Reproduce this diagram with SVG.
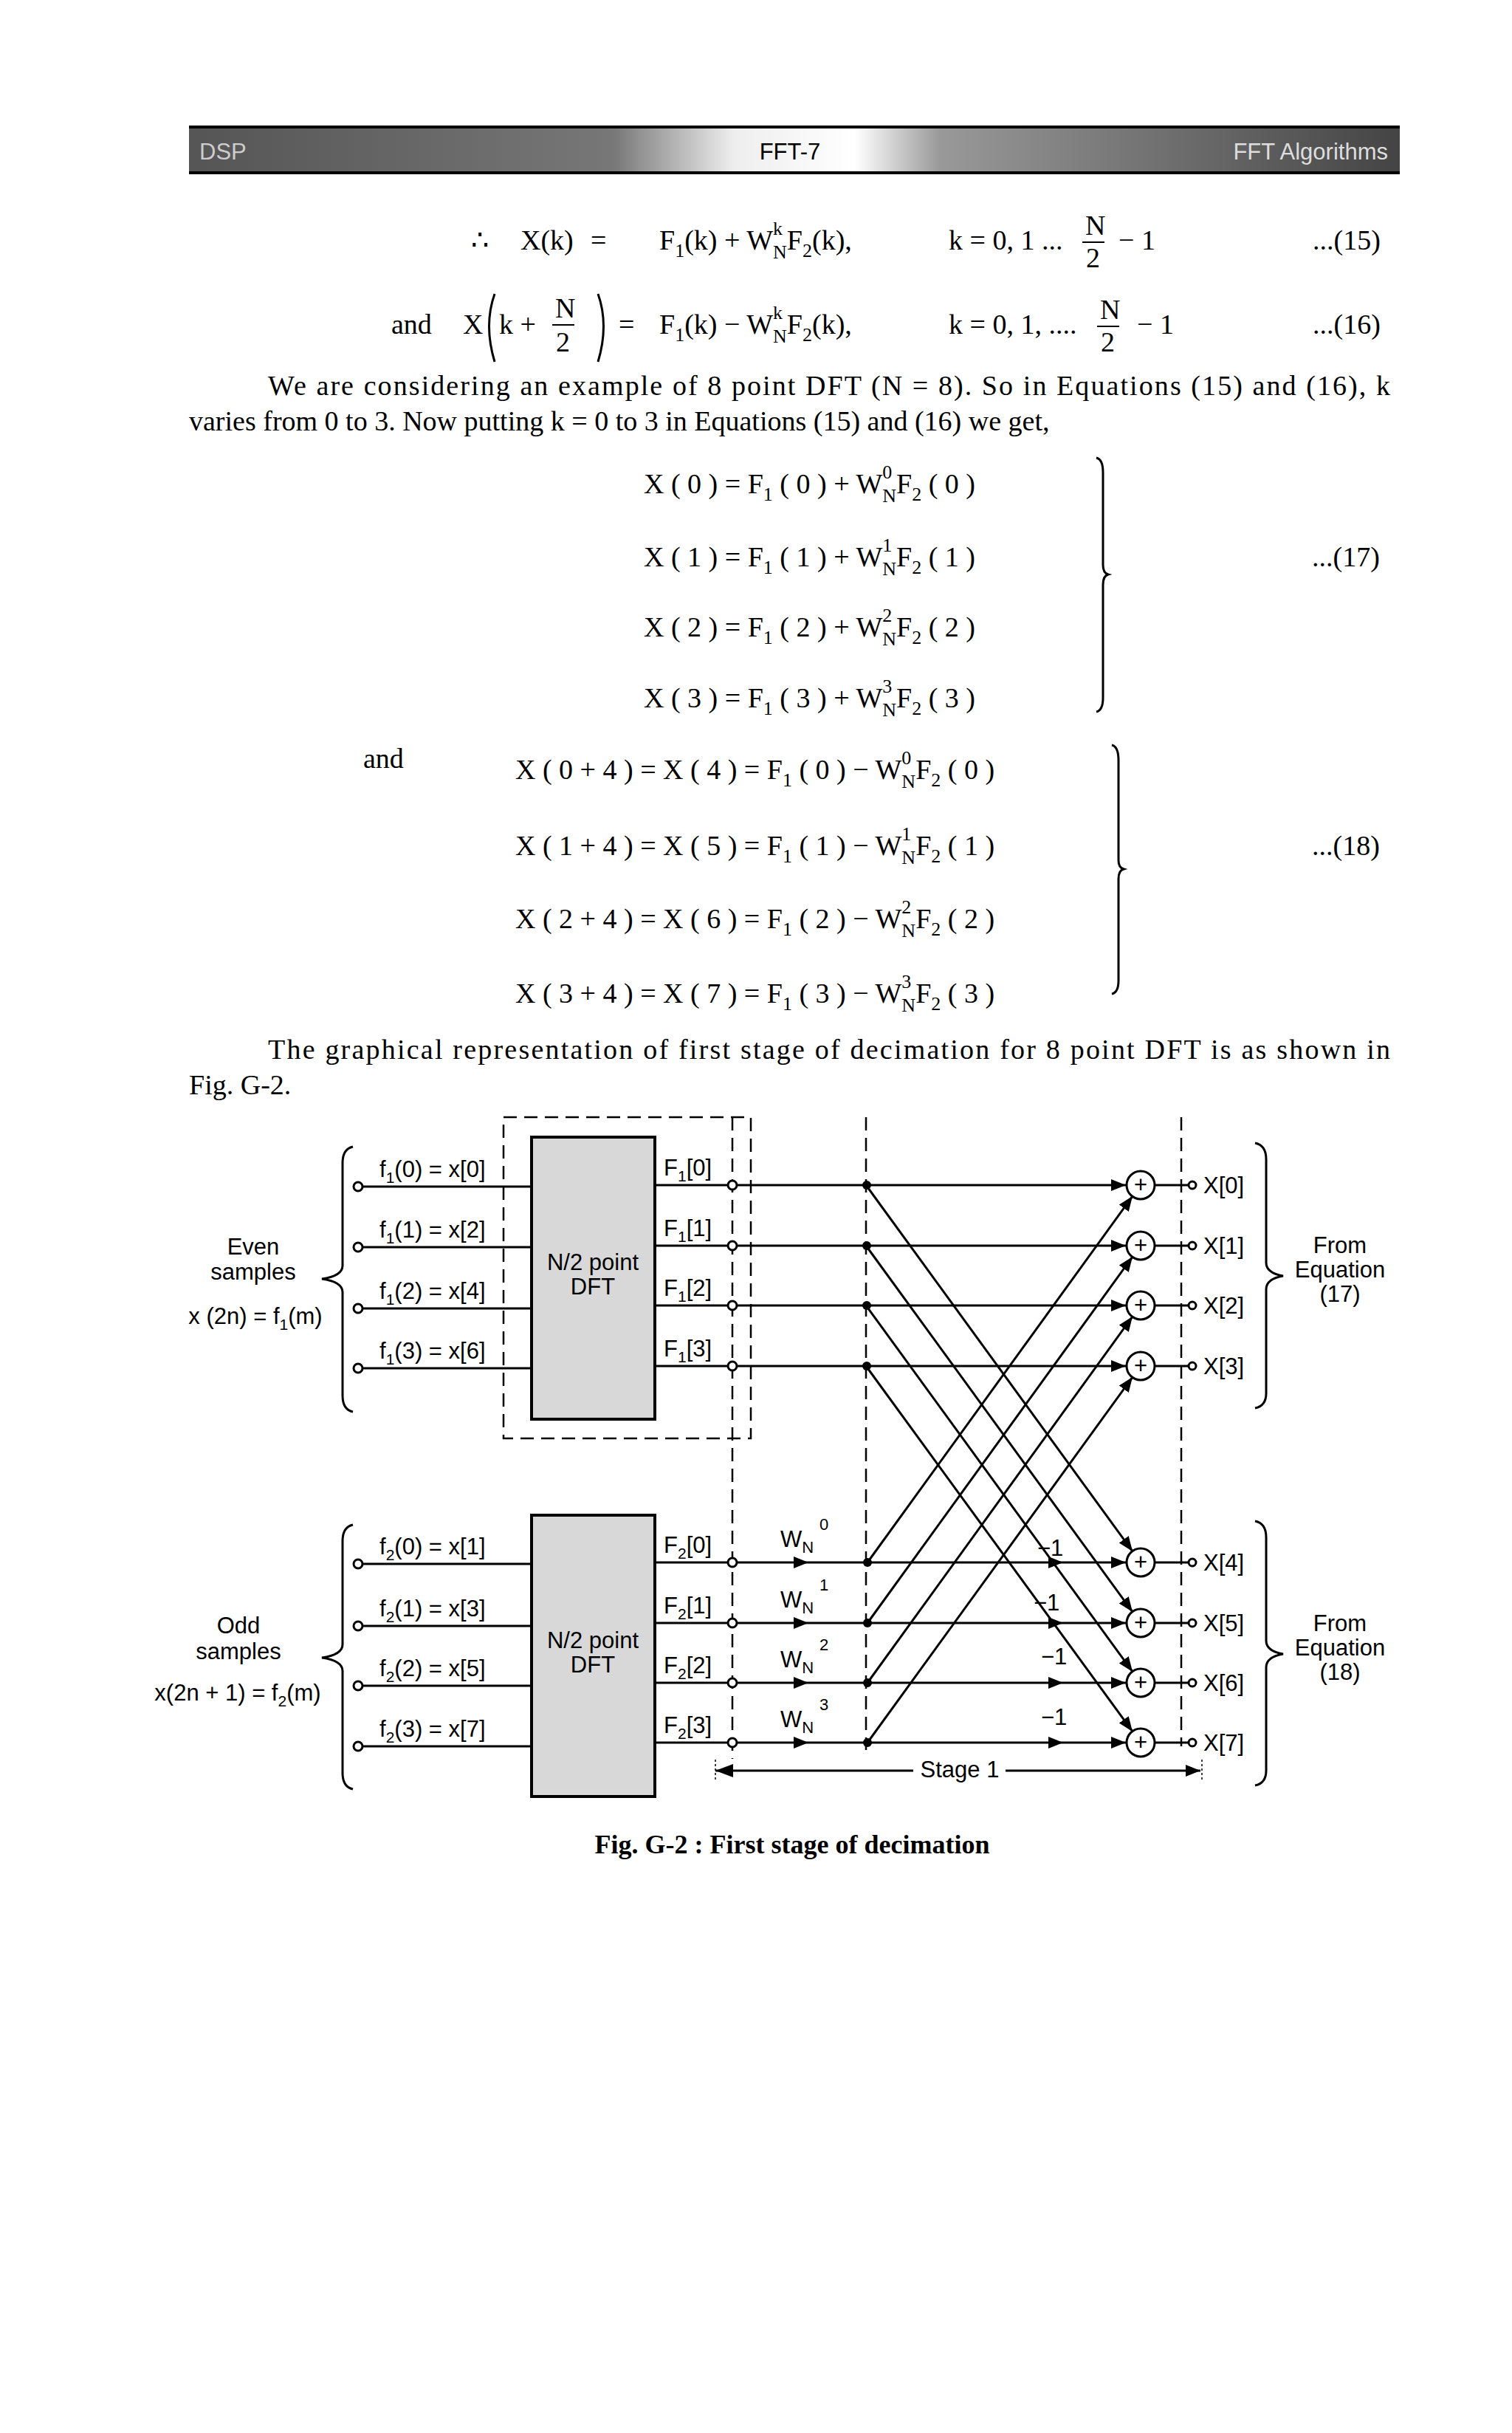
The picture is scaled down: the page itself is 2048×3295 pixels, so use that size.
<svg xmlns="http://www.w3.org/2000/svg" width="2048" height="3295" viewBox="0 0 2048 3295">
<defs>
<linearGradient id="band" x1="0" x2="1" y1="0" y2="0">
<stop offset="0" stop-color="#555"/><stop offset="0.35" stop-color="#777"/><stop offset="0.45" stop-color="#eee"/><stop offset="0.55" stop-color="#fff"/><stop offset="0.62" stop-color="#999"/><stop offset="1" stop-color="#444"/>
</linearGradient>
<marker id="ah" viewBox="0 0 20 20" refX="20" refY="10" markerWidth="20" markerHeight="20" markerUnits="userSpaceOnUse" orient="auto"><path d="M0,2 L20,10 L0,18 Z" fill="#000"/></marker>
<marker id="ahs" viewBox="0 0 24 24" refX="0" refY="12" markerWidth="24" markerHeight="24" markerUnits="userSpaceOnUse" orient="auto"><path d="M24,3 L0,12 L24,21 Z" fill="#000"/></marker>
</defs>
<style>
.t{font-family:"Liberation Serif",serif;font-size:38px;fill:#000}
.d{font-family:"Liberation Sans",Arial,sans-serif;font-size:31px;fill:#000}
.ln{stroke:#000;stroke-width:3;fill:none}
.dash{stroke:#000;stroke-width:2.5;stroke-dasharray:18 10;fill:none}
.oc{fill:#fff;stroke:#000;stroke-width:3}
.dot{fill:#000}
.add{fill:#fff;stroke:#000;stroke-width:3}
.box{fill:#d8d8d8;stroke:#000;stroke-width:4}
.s{font-size:26px}
</style>
<rect width="2048" height="3295" fill="#fff"/>
<g id="header">
<rect x="256" y="172" width="1640" height="62" fill="url(#band)"/>
<line x1="256" y1="172" x2="1896" y2="172" stroke="#000" stroke-width="4"/>
<line x1="256" y1="234" x2="1896" y2="234" stroke="#000" stroke-width="4"/>
<text x="1070" y="216" class="d" text-anchor="middle" font-size="32">FFT-7</text>
<text x="1880" y="216" class="d" text-anchor="end" style="fill:#ddd">FFT Algorithms</text>
<text x="270" y="216" class="d" style="fill:#ccc">DSP</text>
</g>
<g id="equations">
<text class="t" y="338"><tspan x="638">∴</tspan><tspan x="705">X(k)</tspan><tspan x="800">=</tspan><tspan x="893">F<tspan class="s" dy="10">1</tspan><tspan dy="-10">(k) + W</tspan><tspan class="s" dy="-20">k</tspan><tspan class="s" dx="-13" dy="32">N</tspan><tspan dy="-12">F</tspan><tspan class="s" dy="10">2</tspan><tspan dy="-10">(k),</tspan></tspan><tspan x="1285">k = 0, 1 ...</tspan><tspan x="1515">− 1</tspan><tspan x="1778">...(15)</tspan></text>
<text class="t" x="1470" y="318" font-size="32">N</text><line x1="1466" y1="328" x2="1496" y2="328" stroke="#000" stroke-width="2"/><text class="t" x="1471" y="362" font-size="32">2</text>

<text class="t" y="452"><tspan x="530">and</tspan><tspan x="627">X</tspan><tspan x="676">k +</tspan><tspan x="838">=</tspan><tspan x="893">F<tspan class="s" dy="10">1</tspan><tspan dy="-10">(k) − W</tspan><tspan class="s" dy="-20">k</tspan><tspan class="s" dx="-13" dy="32">N</tspan><tspan dy="-12">F</tspan><tspan class="s" dy="10">2</tspan><tspan dy="-10">(k),</tspan></tspan><tspan x="1285">k = 0, 1, ....</tspan><tspan x="1540">− 1</tspan><tspan x="1778">...(16)</tspan></text>
<text class="t" x="752" y="430" font-size="32">N</text><line x1="748" y1="440" x2="778" y2="440" stroke="#000" stroke-width="2"/><text class="t" x="753" y="476" font-size="32">2</text>
<path d="M670,398 Q655,440 670,490" class="ln" stroke-width="2.5"/><path d="M810,398 Q825,440 810,490" class="ln" stroke-width="2.5"/>
<text class="t" x="1490" y="432" font-size="32">N</text><line x1="1486" y1="442" x2="1516" y2="442" stroke="#000" stroke-width="2"/><text class="t" x="1491" y="476" font-size="32">2</text>

<text class="t" x="363" y="535" textLength="1520" lengthAdjust="spacing">We are considering an example of 8 point DFT (N = 8). So in Equations (15) and (16), k</text>
<text class="t" x="256" y="583">varies from 0 to 3. Now putting k = 0 to 3 in Equations (15) and (16) we get,</text>

<g id="eq17">
<text class="t" x="872" y="668">X ( 0 )  = F<tspan class="s" dy="10">1</tspan><tspan dy="-10"> ( 0 ) + W</tspan><tspan class="s" dy="-20">0</tspan><tspan class="s" dx="-13" dy="32">N</tspan><tspan dy="-12">F</tspan><tspan class="s" dy="10">2</tspan><tspan dy="-10"> ( 0 )</tspan></text>
<text class="t" x="872" y="767">X ( 1 )  = F<tspan class="s" dy="10">1</tspan><tspan dy="-10"> ( 1 ) + W</tspan><tspan class="s" dy="-20">1</tspan><tspan class="s" dx="-13" dy="32">N</tspan><tspan dy="-12">F</tspan><tspan class="s" dy="10">2</tspan><tspan dy="-10"> ( 1 )</tspan></text>
<text class="t" x="872" y="862">X ( 2 )  = F<tspan class="s" dy="10">1</tspan><tspan dy="-10"> ( 2 ) + W</tspan><tspan class="s" dy="-20">2</tspan><tspan class="s" dx="-13" dy="32">N</tspan><tspan dy="-12">F</tspan><tspan class="s" dy="10">2</tspan><tspan dy="-10"> ( 2 )</tspan></text>
<text class="t" x="872" y="958">X ( 3 )  = F<tspan class="s" dy="10">1</tspan><tspan dy="-10"> ( 3 ) + W</tspan><tspan class="s" dy="-20">3</tspan><tspan class="s" dx="-13" dy="32">N</tspan><tspan dy="-12">F</tspan><tspan class="s" dy="10">2</tspan><tspan dy="-10"> ( 3 )</tspan></text>
<path d="M1485,620 Q1494,622 1494,640 L1494,765 Q1494,776 1501,778 Q1494,780 1494,792 L1494,945 Q1494,962 1485,964" class="ln" stroke-width="2"/>
<text class="t" x="1777" y="767">...(17)</text>
</g>
<g id="eq18">
<text class="t" x="492" y="1040">and</text>
<text class="t" x="698" y="1055">X ( 0 + 4 ) = X ( 4 ) = F<tspan class="s" dy="10">1</tspan><tspan dy="-10"> ( 0 ) − W</tspan><tspan class="s" dy="-20">0</tspan><tspan class="s" dx="-13" dy="32">N</tspan><tspan dy="-12">F</tspan><tspan class="s" dy="10">2</tspan><tspan dy="-10"> ( 0 )</tspan></text>
<text class="t" x="698" y="1158">X ( 1 + 4 ) = X ( 5 ) = F<tspan class="s" dy="10">1</tspan><tspan dy="-10"> ( 1 ) − W</tspan><tspan class="s" dy="-20">1</tspan><tspan class="s" dx="-13" dy="32">N</tspan><tspan dy="-12">F</tspan><tspan class="s" dy="10">2</tspan><tspan dy="-10"> ( 1 )</tspan></text>
<text class="t" x="698" y="1257">X ( 2 + 4 ) = X ( 6 ) = F<tspan class="s" dy="10">1</tspan><tspan dy="-10"> ( 2 ) − W</tspan><tspan class="s" dy="-20">2</tspan><tspan class="s" dx="-13" dy="32">N</tspan><tspan dy="-12">F</tspan><tspan class="s" dy="10">2</tspan><tspan dy="-10"> ( 2 )</tspan></text>
<text class="t" x="698" y="1358">X ( 3 + 4 ) = X ( 7 ) = F<tspan class="s" dy="10">1</tspan><tspan dy="-10"> ( 3 ) − W</tspan><tspan class="s" dy="-20">3</tspan><tspan class="s" dx="-13" dy="32">N</tspan><tspan dy="-12">F</tspan><tspan class="s" dy="10">2</tspan><tspan dy="-10"> ( 3 )</tspan></text>
<path d="M1506,1009 Q1515,1011 1515,1030 L1515,1165 Q1515,1175 1522,1177 Q1515,1179 1515,1190 L1515,1328 Q1515,1344 1506,1346" class="ln" stroke-width="2"/>
<text class="t" x="1777" y="1158">...(18)</text>
</g>
<text class="t" x="363" y="1434" textLength="1520" lengthAdjust="spacing">The graphical representation  of  first  stage of decimation for 8 point DFT is as shown in</text>
<text class="t" x="256" y="1482">Fig. G-2.</text>
</g>

<g id="guides">
<rect x="682" y="1513" width="335" height="435" class="dash"/>
<line x1="992" y1="1513" x2="992" y2="2382" class="dash"/>
<line x1="1173" y1="1513" x2="1173" y2="2370" class="dash"/>
<line x1="1600" y1="1513" x2="1600" y2="2365" class="dash"/>
</g>

<g id="dft1"><rect x="720" y="1540" width="167" height="382" class="box"/>
<text x="803" y="1720" class="d" text-anchor="middle">N/2 point</text><text x="803" y="1753" class="d" text-anchor="middle">DFT</text></g>
<g id="dft2"><rect x="720" y="2052" width="167" height="381" class="box"/>
<text x="803" y="2232" class="d" text-anchor="middle">N/2 point</text><text x="803" y="2265" class="d" text-anchor="middle">DFT</text></g>

<g id="connectors">
<path class="ln" d="M491,1607H720 M491,1689H720 M491,1772H720 M491,1853H720 M491,2118H720 M491,2202H720 M491,2283H720 M491,2365H720"/>
<path class="ln" marker-end="url(#ah)" d="M887,1605H1525"/>
<path class="ln" marker-end="url(#ah)" d="M887,1687H1525"/>
<path class="ln" marker-end="url(#ah)" d="M887,1768H1525"/>
<path class="ln" marker-end="url(#ah)" d="M887,1850H1525"/>
<path class="ln" marker-end="url(#ah)" d="M887,2116H1095"/>
<path class="ln" marker-end="url(#ah)" d="M887,2198H1095"/>
<path class="ln" marker-end="url(#ah)" d="M887,2279H1095"/>
<path class="ln" marker-end="url(#ah)" d="M887,2360H1095"/>
<path class="ln" marker-end="url(#ah)" d="M1095,2116H1440"/>
<path class="ln" marker-end="url(#ah)" d="M1095,2198H1440"/>
<path class="ln" marker-end="url(#ah)" d="M1095,2279H1440"/>
<path class="ln" marker-end="url(#ah)" d="M1095,2360H1440"/>
<path class="ln" marker-end="url(#ah)" d="M1440,2116H1525"/>
<path class="ln" marker-end="url(#ah)" d="M1440,2198H1525"/>
<path class="ln" marker-end="url(#ah)" d="M1440,2279H1525"/>
<path class="ln" marker-end="url(#ah)" d="M1440,2360H1525"/>
<line class="ln" stroke-width="2.5" marker-end="url(#ah)" x1="1173" y1="1605" x2="1534" y2="2101"/>
<line class="ln" stroke-width="2.5" marker-end="url(#ah)" x1="1173" y1="1687" x2="1534" y2="2183"/>
<line class="ln" stroke-width="2.5" marker-end="url(#ah)" x1="1173" y1="1768" x2="1534" y2="2264"/>
<line class="ln" stroke-width="2.5" marker-end="url(#ah)" x1="1173" y1="1850" x2="1534" y2="2345"/>
<line class="ln" stroke-width="2.5" marker-end="url(#ah)" x1="1175" y1="2116" x2="1534" y2="1620"/>
<line class="ln" stroke-width="2.5" marker-end="url(#ah)" x1="1175" y1="2198" x2="1534" y2="1702"/>
<line class="ln" stroke-width="2.5" marker-end="url(#ah)" x1="1175" y1="2279" x2="1534" y2="1783"/>
<line class="ln" stroke-width="2.5" marker-end="url(#ah)" x1="1175" y1="2360" x2="1534" y2="1865"/>
<path class="ln" stroke-width="2.5" d="M1564,1605H1610 M1564,1687H1610 M1564,1768H1610 M1564,1850H1610 M1564,2116H1610 M1564,2198H1610 M1564,2279H1610 M1564,2360H1610"/>
<line class="ln" stroke-width="2.5" x1="969" y1="2398" x2="1237" y2="2398" marker-start="url(#ahs)"/>
<line class="ln" stroke-width="2.5" x1="1362" y1="2398" x2="1626" y2="2398" marker-end="url(#ah)"/>
<line x1="969" y1="2383" x2="969" y2="2412" stroke="#000" stroke-width="1.5" stroke-dasharray="3 3"/>
<line x1="1628" y1="2383" x2="1628" y2="2412" stroke="#000" stroke-width="1.5" stroke-dasharray="3 3"/>
</g>

<g id="inputs">
<circle cx="485" cy="1607" r="6" class="oc"/><circle cx="485" cy="1689" r="6" class="oc"/><circle cx="485" cy="1772" r="6" class="oc"/><circle cx="485" cy="1853" r="6" class="oc"/>
<circle cx="485" cy="2118" r="6" class="oc"/><circle cx="485" cy="2202" r="6" class="oc"/><circle cx="485" cy="2283" r="6" class="oc"/><circle cx="485" cy="2365" r="6" class="oc"/>
</g>
<g id="midnodes">
<circle cx="992" cy="1605" r="6" class="oc"/><circle cx="992" cy="1687" r="6" class="oc"/><circle cx="992" cy="1768" r="6" class="oc"/><circle cx="992" cy="1850" r="6" class="oc"/>
<circle cx="992" cy="2116" r="6" class="oc"/><circle cx="992" cy="2198" r="6" class="oc"/><circle cx="992" cy="2279" r="6" class="oc"/><circle cx="992" cy="2360" r="6" class="oc"/>
<circle cx="1174" cy="1605" r="6" class="dot"/><circle cx="1174" cy="1687" r="6" class="dot"/><circle cx="1174" cy="1768" r="6" class="dot"/><circle cx="1174" cy="1850" r="6" class="dot"/>
<circle cx="1175" cy="2116" r="6" class="dot"/><circle cx="1175" cy="2198" r="6" class="dot"/><circle cx="1175" cy="2279" r="6" class="dot"/><circle cx="1175" cy="2360" r="6" class="dot"/>
</g>
<g id="adders">
<g class="d" text-anchor="middle" font-size="28">
<circle cx="1545" cy="1605" r="19" class="add"/><text x="1545" y="1615">+</text>
<circle cx="1545" cy="1687" r="19" class="add"/><text x="1545" y="1697">+</text>
<circle cx="1545" cy="1768" r="19" class="add"/><text x="1545" y="1778">+</text>
<circle cx="1545" cy="1850" r="19" class="add"/><text x="1545" y="1860">+</text>
<circle cx="1545" cy="2116" r="19" class="add"/><text x="1545" y="2126">+</text>
<circle cx="1545" cy="2198" r="19" class="add"/><text x="1545" y="2208">+</text>
<circle cx="1545" cy="2279" r="19" class="add"/><text x="1545" y="2289">+</text>
<circle cx="1545" cy="2360" r="19" class="add"/><text x="1545" y="2370">+</text>
</g>
</g>
<g id="outputs">
<circle cx="1615" cy="1605" r="5" class="oc" stroke-width="2.5"/><circle cx="1615" cy="1687" r="5" class="oc" stroke-width="2.5"/><circle cx="1615" cy="1768" r="5" class="oc" stroke-width="2.5"/><circle cx="1615" cy="1850" r="5" class="oc" stroke-width="2.5"/>
<circle cx="1615" cy="2116" r="5" class="oc" stroke-width="2.5"/><circle cx="1615" cy="2198" r="5" class="oc" stroke-width="2.5"/><circle cx="1615" cy="2279" r="5" class="oc" stroke-width="2.5"/><circle cx="1615" cy="2360" r="5" class="oc" stroke-width="2.5"/>
<g class="d">
<text x="1630" y="1616">X[0]</text><text x="1630" y="1698">X[1]</text><text x="1630" y="1779">X[2]</text><text x="1630" y="1861">X[3]</text>
<text x="1630" y="2127">X[4]</text><text x="1630" y="2209">X[5]</text><text x="1630" y="2290">X[6]</text><text x="1630" y="2371">X[7]</text>
</g>
</g>

<g id="labels" class="d">
<text x="514" y="1594">f<tspan font-size="21" dy="8">1</tspan><tspan dy="-8">(0) = x[0]</tspan></text>
<text x="514" y="1676">f<tspan font-size="21" dy="8">1</tspan><tspan dy="-8">(1) = x[2]</tspan></text>
<text x="514" y="1759">f<tspan font-size="21" dy="8">1</tspan><tspan dy="-8">(2) = x[4]</tspan></text>
<text x="514" y="1840">f<tspan font-size="21" dy="8">1</tspan><tspan dy="-8">(3) = x[6]</tspan></text>
<text x="514" y="2105">f<tspan font-size="21" dy="8">2</tspan><tspan dy="-8">(0) = x[1]</tspan></text>
<text x="514" y="2189">f<tspan font-size="21" dy="8">2</tspan><tspan dy="-8">(1) = x[3]</tspan></text>
<text x="514" y="2270">f<tspan font-size="21" dy="8">2</tspan><tspan dy="-8">(2) = x[5]</tspan></text>
<text x="514" y="2352">f<tspan font-size="21" dy="8">2</tspan><tspan dy="-8">(3) = x[7]</tspan></text>
<text x="899" y="1592">F<tspan font-size="21" dy="8">1</tspan><tspan dy="-8">[0]</tspan></text>
<text x="899" y="1674">F<tspan font-size="21" dy="8">1</tspan><tspan dy="-8">[1]</tspan></text>
<text x="899" y="1755">F<tspan font-size="21" dy="8">1</tspan><tspan dy="-8">[2]</tspan></text>
<text x="899" y="1837">F<tspan font-size="21" dy="8">1</tspan><tspan dy="-8">[3]</tspan></text>
<text x="899" y="2103">F<tspan font-size="21" dy="8">2</tspan><tspan dy="-8">[0]</tspan></text>
<text x="899" y="2185">F<tspan font-size="21" dy="8">2</tspan><tspan dy="-8">[1]</tspan></text>
<text x="899" y="2266">F<tspan font-size="21" dy="8">2</tspan><tspan dy="-8">[2]</tspan></text>
<text x="899" y="2347">F<tspan font-size="21" dy="8">2</tspan><tspan dy="-8">[3]</tspan></text>
<text x="1057" y="2095">W<tspan font-size="22" dy="8">N</tspan></text><text x="1110" y="2072" font-size="22">0</text>
<text x="1057" y="2177">W<tspan font-size="22" dy="8">N</tspan></text><text x="1110" y="2154" font-size="22">1</text>
<text x="1057" y="2258">W<tspan font-size="22" dy="8">N</tspan></text><text x="1110" y="2235" font-size="22">2</text>
<text x="1057" y="2339">W<tspan font-size="22" dy="8">N</tspan></text><text x="1110" y="2316" font-size="22">3</text>
<text x="1405" y="2107">−1</text>
<text x="1400" y="2181">−1</text>
<text x="1410" y="2254">−1</text>
<text x="1410" y="2336">−1</text>
<text x="1300" y="2407" text-anchor="middle">Stage 1</text>
<g text-anchor="middle">
<text x="343" y="1699">Even</text><text x="343" y="1733">samples</text>
<text x="346" y="1793">x (2n) = f<tspan font-size="21" dy="8">1</tspan><tspan dy="-8">(m)</tspan></text>
<text x="323" y="2212">Odd</text><text x="323" y="2247">samples</text>
<text x="322" y="2303">x(2n + 1) = f<tspan font-size="21" dy="8">2</tspan><tspan dy="-8">(m)</tspan></text>
<text x="1815" y="1697">From</text><text x="1815" y="1730">Equation</text><text x="1815" y="1763">(17)</text>
<text x="1815" y="2209">From</text><text x="1815" y="2242">Equation</text><text x="1815" y="2275">(18)</text>
</g>
</g>

<g id="braces" class="ln" stroke-width="2.5">
<path d="M478,1553 Q464,1556 464,1575 L464,1714 Q464,1728 436,1732 Q464,1736 464,1750 L464,1890 Q464,1909 478,1912"/>
<path d="M478,2065 Q464,2068 464,2087 L464,2227 Q464,2241 436,2245 Q464,2249 464,2263 L464,2401 Q464,2420 478,2423"/>
<path d="M1700,1548 Q1715,1551 1715,1570 L1715,1710 Q1715,1724 1738,1728 Q1715,1732 1715,1746 L1715,1887 Q1715,1904 1700,1907"/>
<path d="M1700,2060 Q1715,2063 1715,2082 L1715,2222 Q1715,2236 1738,2240 Q1715,2244 1715,2258 L1715,2398 Q1715,2415 1700,2418"/>
</g>

<text id="caption" x="1073" y="2510" text-anchor="middle" font-family="Liberation Serif,serif" font-weight="bold" font-size="36">Fig. G-2 : First stage of decimation</text>
</svg>
